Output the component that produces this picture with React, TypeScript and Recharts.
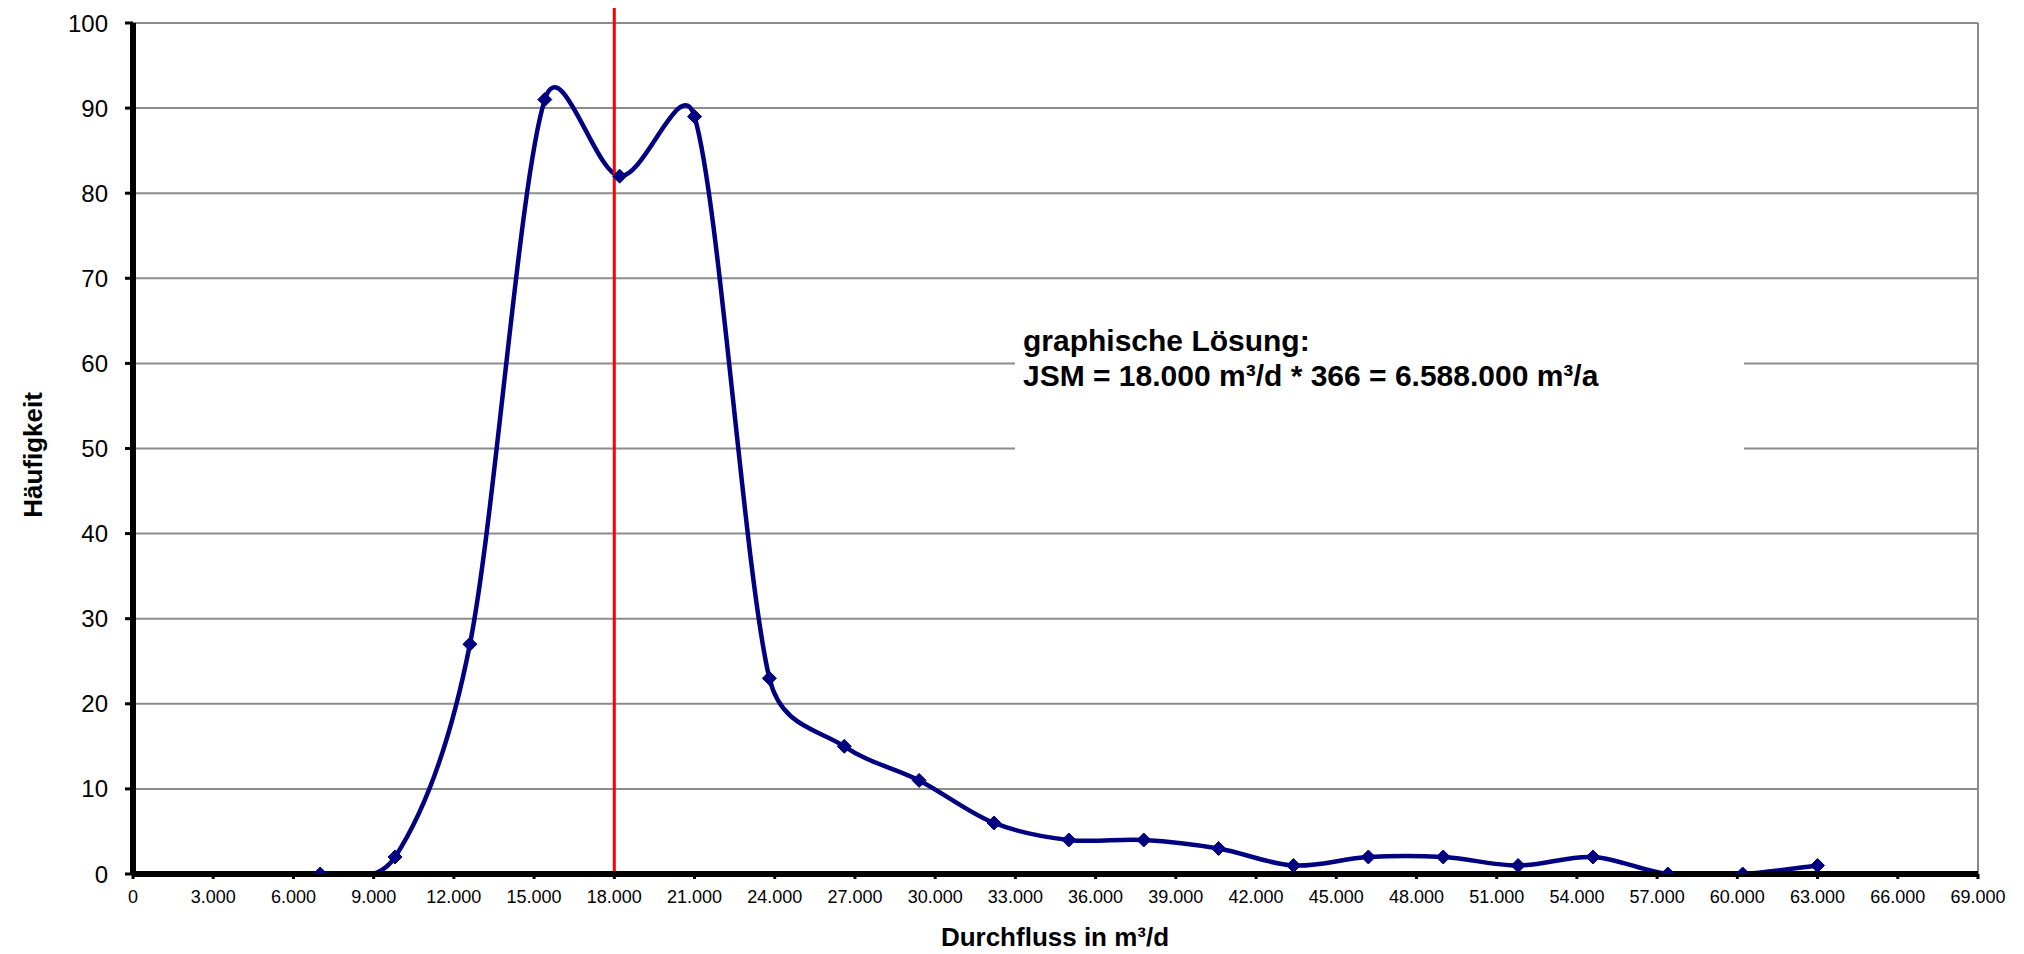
import React from "react";
import { LineChart, Line, XAxis, YAxis, CartesianGrid, ReferenceLine } from "recharts";

const flows = [7000, 9800, 12600, 15400, 18200, 21000, 23800, 26600, 29400, 32200, 35000, 37800, 40600, 43400, 46200, 49000, 51800, 54600, 57400, 60200, 63000];
const counts = [0, 2, 27, 91, 82, 89, 23, 15, 11, 6, 4, 4, 3, 1, 2, 2, 1, 2, 0, 0, 1];
const xTicks = [0, 3000, 6000, 9000, 12000, 15000, 18000, 21000, 24000, 27000, 30000, 33000, 36000, 39000, 42000, 45000, 48000, 51000, 54000, 57000, 60000, 63000, 66000, 69000];
const yTicks = [0, 10, 20, 30, 40, 50, 60, 70, 80, 90, 100];
const solutionFlow = 18000;
const titleLine1 = "graphische Lösung:";
const titleLine2 = "JSM = 18.000 m³/d * 366 = 6.588.000 m³/a";

const data = flows.map((q, i) => ({ q, n: counts[i] }));

const FONT = '"Liberation Sans", Arial, Helvetica, sans-serif';

const fmt = (v: number) => {
  if (v === 0) return "0";
  const th = Math.floor(v / 1000);
  const rest = String(v % 1000).padStart(3, "0");
  return th + "." + rest;
};

// Excel-like smoothed line (Bezier, 1/6 tangents, arm clamped to half segment)
const excelCurve = (context: any) => {
  let pts: number[][] = [];
  return {
    areaStart() {},
    areaEnd() {},
    lineStart() {
      pts = [];
    },
    point(x: number, y: number) {
      pts.push([+x, +y]);
    },
    lineEnd() {
      const n = pts.length;
      if (n === 0) return;
      context.moveTo(pts[0][0], pts[0][1]);
      if (n === 1) return;
      const arm = (i: number, dir: number) => {
        const prev = pts[Math.max(i - 1, 0)];
        const next = pts[Math.min(i + 1, n - 1)];
        let tx = (next[0] - prev[0]) / 6;
        let ty = (next[1] - prev[1]) / 6;
        const nb = pts[i + dir];
        const seg = Math.hypot(nb[0] - pts[i][0], nb[1] - pts[i][1]);
        const len = Math.hypot(tx, ty);
        if (len > 0 && len > seg / 2) {
          const s = seg / 2 / len;
          tx *= s;
          ty *= s;
        }
        return [tx, ty];
      };
      for (let i = 0; i < n - 1; i++) {
        const a = arm(i, 1);
        const b = arm(i + 1, -1);
        const p = pts[i];
        const q = pts[i + 1];
        context.bezierCurveTo(p[0] + a[0], p[1] + a[1], q[0] - b[0], q[1] - b[1], q[0], q[1]);
      }
    },
  };
};

const Diamond = (props: any) => {
  const { cx, cy, index } = props;
  if (cx == null || cy == null) return <g key={`d-${index}`} />;
  const r = 7;
  return (
    <path
      key={`d-${index}`}
      d={`M${cx},${cy - r}L${cx + r},${cy}L${cx},${cy + r}L${cx - r},${cy}Z`}
      fill="#000080"
      stroke="#000080"
      strokeWidth={1}
    />
  );
};

export default function App() {
  return (
    <div style={{ position: "relative", width: 2008, height: 954, marginTop: -8, background: "#fff", fontFamily: FONT }}>
      <LineChart width={2008} height={954} data={data} margin={{ top: 23, right: 38, bottom: 40, left: 25 }}>
        <CartesianGrid vertical={false} stroke="#8c8c8c" strokeWidth={2} />
        <ReferenceLine x={69000} stroke="#8c8c8c" strokeWidth={2} />
        <XAxis
          type="number"
          dataKey="q"
          domain={[0, 69000]}
          ticks={xTicks}
          interval={0}
          tickFormatter={fmt}
          height={40}
          tickSize={5}
          tickMargin={11}
          tick={{ fill: "#000", fontSize: 18, fontFamily: FONT }}
          tickLine={{ stroke: "#000", strokeWidth: 3 }}
          axisLine={{ stroke: "#000", strokeWidth: 6 }}
          allowDataOverflow
        />
        <YAxis
          type="number"
          domain={[0, 100]}
          ticks={yTicks}
          interval={0}
          width={100}
          tickSize={8}
          tickMargin={17}
          tick={{ fill: "#000", fontSize: 24, fontFamily: FONT }}
          tickLine={{ stroke: "#000", strokeWidth: 3 }}
          axisLine={{ stroke: "#000", strokeWidth: 6 }}
          allowDataOverflow
        />
        <Line
          type={excelCurve as any}
          dataKey="n"
          stroke="#000080"
          strokeWidth={4.5}
          dot={Diamond}
          activeDot={false}
          isAnimationActive={false}
        />
        <ReferenceLine
          segment={[
            { x: solutionFlow, y: 0 },
            { x: solutionFlow, y: 102.8 },
          ]}
          stroke="#ff0000"
          strokeWidth={3}
          ifOverflow="visible"
        />
      </LineChart>
      <div
        style={{
          position: "absolute",
          left: 1007,
          top: 300,
          width: 729,
          height: 180,
          background: "#fff",
        }}
      />
      <div
        style={{
          position: "absolute",
          left: 1015,
          top: 323,
          fontSize: 30,
          lineHeight: "35px",
          fontWeight: "bold",
          color: "#000",
          whiteSpace: "nowrap",
        }}
      >
        <div>{titleLine1}</div>
        <div>{titleLine2}</div>
      </div>
      <div
        style={{
          position: "absolute",
          left: 25,
          top: 455,
          fontSize: 26,
          fontWeight: "bold",
          color: "#000",
          whiteSpace: "nowrap",
          transform: "translate(-50%, -50%) rotate(-90deg)",
        }}
      >
        Häufigkeit
      </div>
      <div
        style={{
          position: "absolute",
          left: 1047,
          top: 924,
          fontSize: 26,
          lineHeight: "26px",
          fontWeight: "bold",
          color: "#000",
          whiteSpace: "nowrap",
          transform: "translateX(-50%)",
        }}
      >
        Durchfluss in m³/d
      </div>
    </div>
  );
}
